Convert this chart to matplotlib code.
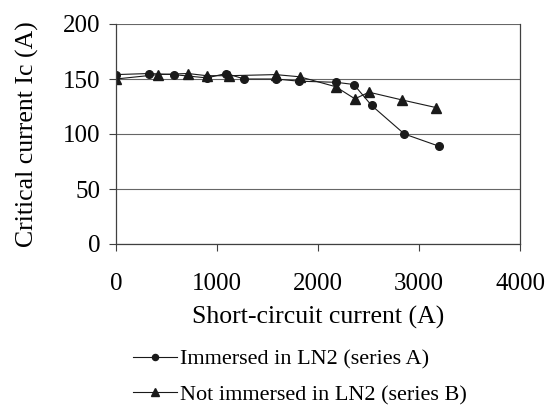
import matplotlib.pyplot as plt

plt.rcParams['font.family'] = ['Liberation Serif', 'DejaVu Serif']

# series A: immersed in LN2
xa = [0, 330, 570, 900, 1090, 1270, 1580, 1815, 2180, 2355, 2530, 2855, 3195]
ya = [154, 155, 154, 151, 155, 150, 150, 148, 147, 145, 126, 100, 89]
# series B: not immersed in LN2
xb = [0, 415, 710, 900, 1120, 1580, 1820, 2175, 2365, 2505, 2830, 3170]
yb = [150, 154, 155, 153, 153, 154, 152, 143, 132, 138, 131, 124]

xticks = [0, 1000, 2000, 3000, 4000]
yticks = [0, 50, 100, 150, 200]

fig = plt.figure(figsize=(5.46, 4.08), dpi=100)
ax = fig.add_axes([116 / 546, 1 - 244 / 408, 404 / 546, 220 / 408])

la, = ax.plot(xa, ya, color='0.1', lw=0.8, marker='o', ms=5.5,
              label='Immersed in LN2 (series A)')
lb, = ax.plot(xb, yb, color='0.1', lw=0.8, marker='^', ms=6.5,
              label='Not immersed in LN2 (series B)')

ax.set_xlim(0, 4000)
ax.set_ylim(0, 200)
ax.set_xticks(xticks)
ax.set_yticks(yticks)
ax.yaxis.grid(True, color='0.4', lw=0.8)
ax.set_axisbelow(True)
for s in ['left', 'right', 'bottom']:
    ax.spines[s].set_color('0.25')
    ax.spines[s].set_linewidth(0.9)
ax.spines['top'].set_visible(False)
ax.tick_params(axis='both', labelsize=18, length=5, width=0.8, color='0.25')
ax.tick_params(axis='x', pad=16)
ax.tick_params(axis='y', pad=6)

ax.set_xlabel('Short-circuit current (A)', fontsize=18.5, labelpad=8)
ax.set_ylabel('Critical current Ic (A)', fontsize=18.5)
ax.yaxis.set_label_coords(-0.19, 0.5)

fig.legend(handles=[la, lb], loc='upper left', bbox_to_anchor=(124 / 546, 1 - 340 / 408),
           frameon=False, fontsize=16, handlelength=2.0, handletextpad=0.12,
           labelspacing=0.68, borderaxespad=0, markerscale=0.8)

fig.savefig('out.png', dpi=100)
